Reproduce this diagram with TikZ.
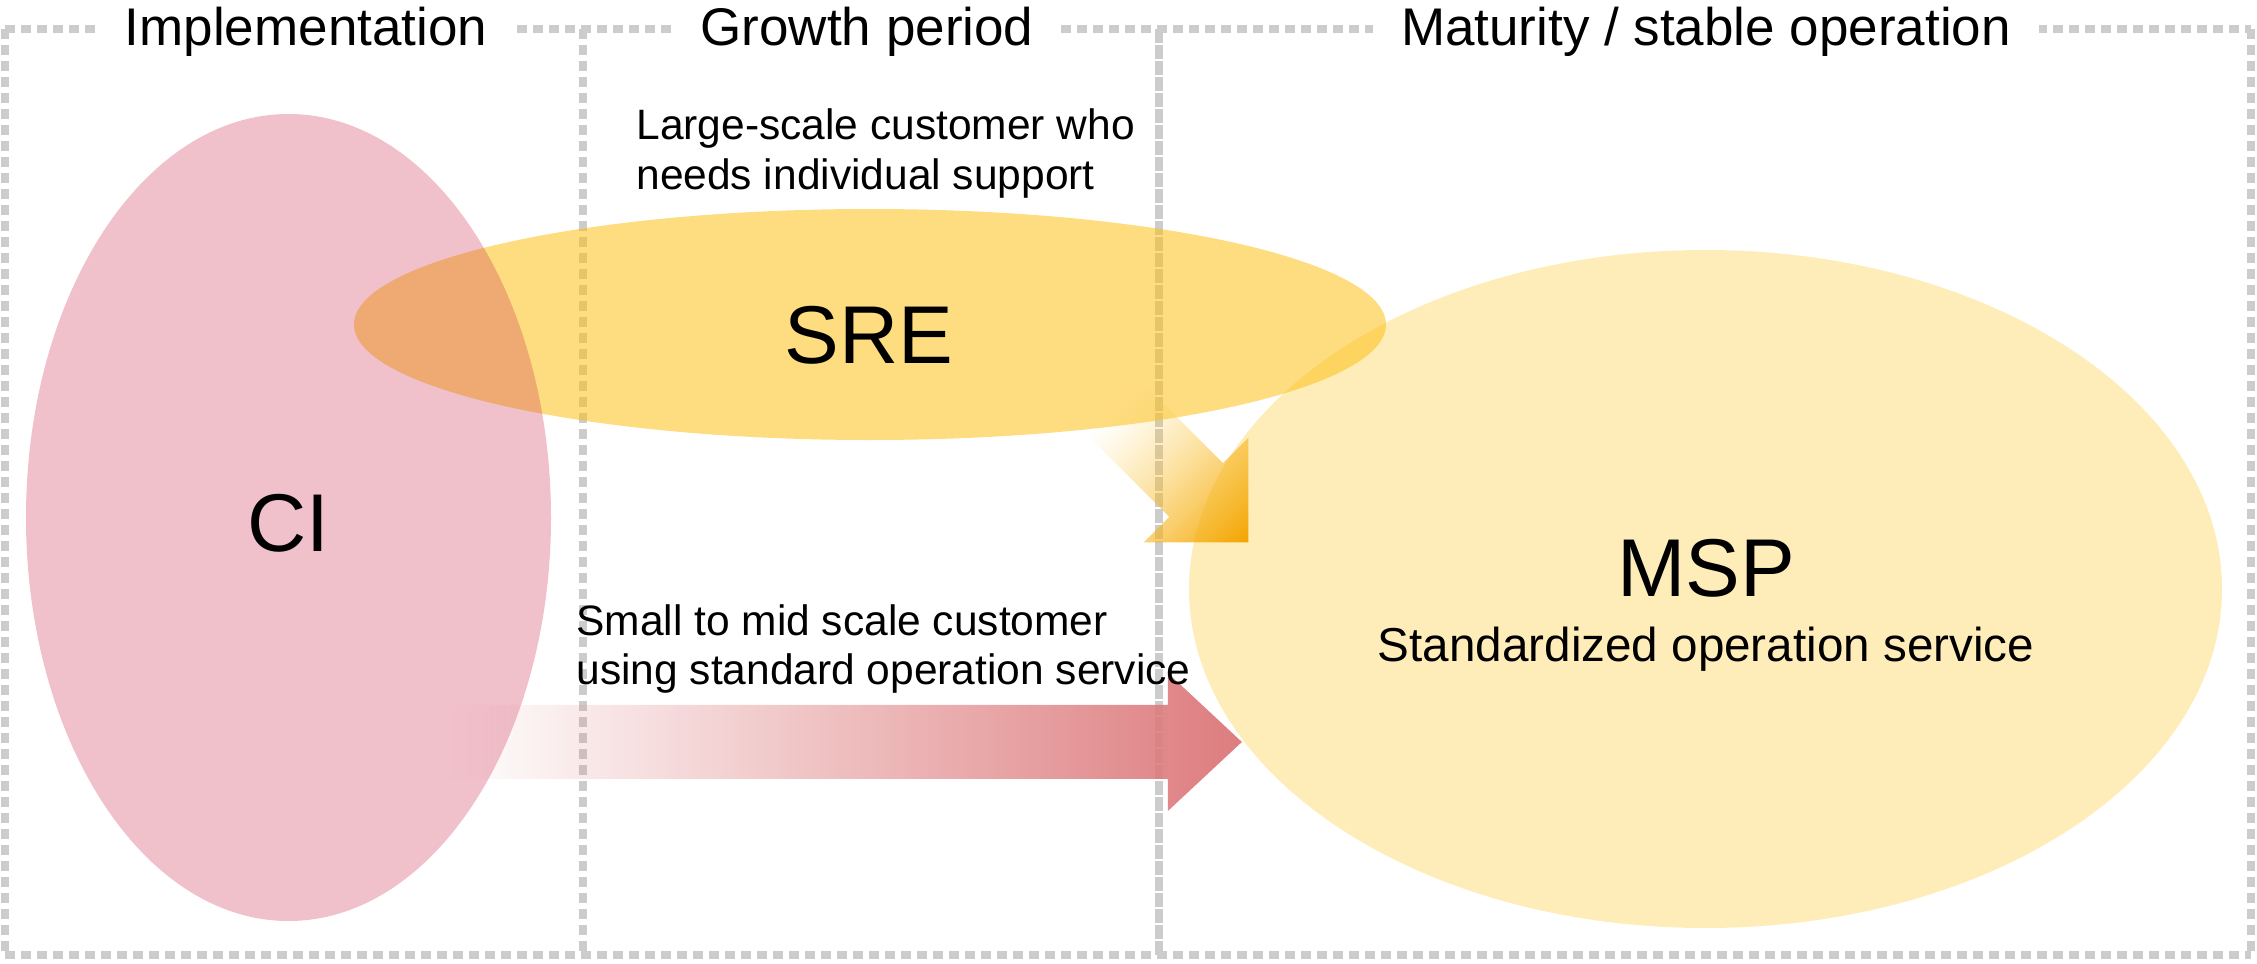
\documentclass[tikz,border=0pt]{standalone}
\usepackage{fontspec}
\setmainfont{Liberation Sans}
\usetikzlibrary{shapes.geometric,fadings}

\definecolor{gridgray}{RGB}{204,204,204}
\definecolor{gold}{RGB}{253,193,24}
\definecolor{crimson}{RGB}{205,48,82}
\definecolor{rosearrow}{RGB}{221,124,126}
\definecolor{ambertip}{RGB}{243,164,0}
\definecolor{amberlight}{RGB}{253,208,80}

% opacity ramp: transparent on the left, opaque on the right
\tikzfading[name=fadein, left color=transparent!100, right color=transparent!0]

\begin{document}
\begin{tikzpicture}[x=0.5pt,y=-0.5pt,
  frameline/.style={draw=gridgray, line width=4pt, dash pattern=on 5pt off 3pt},
  seamline/.style={draw=gridgray, line width=4pt, dash pattern=on 7pt off 1pt},
  blob/.style={ellipse, inner sep=0pt, draw=none},
  title/.style={anchor=base, fill=white, inner xsep=14pt, inner ysep=2pt,
    font=\fontsize{26.5}{30}\selectfont},
  biglabel/.style={anchor=base, font=\fontsize{41}{44}\selectfont},
  sublabel/.style={anchor=base, font=\fontsize{23.8}{28}\selectfont},
  note/.style={anchor=base west, inner sep=0pt, font=\fontsize{21.25}{24.5}\selectfont}]

\useasboundingbox (0,0) rectangle (2257,963);

% phase frames
\draw[frameline] (5,29) -- (2251,29);
\draw[frameline] (5,955) -- (2251,955);
\draw[frameline] (5,29) -- (5,955);
\draw[frameline] (583,29) -- (583,955);
\draw[frameline] (2251,29) -- (2251,955);
\draw[seamline] (1159,29) -- (1159,955);

% service areas
\node[blob, fill=gold, fill opacity=0.3, minimum width=516.5pt, minimum height=339pt]
  (msp) at (1705.5,589) {};
\node[blob, fill=gold, fill opacity=0.55, minimum width=516pt, minimum height=115.5pt]
  (sre) at (870,324.5) {};
\node[blob, fill=crimson, fill opacity=0.3, minimum width=262.5pt, minimum height=403.5pt]
  (ci) at (288.5,517.5) {};

% flow from SRE down into MSP
\begin{scope}[transform canvas={shift={(1196,490)}, rotate=-45}]
  \shade[left color=amberlight, right color=ambertip, path fading=fadein]
    (-115,-38) -- (0,-38) -- (0,-74) -- (74,0) -- (0,74) -- (0,38) -- (-115,38) -- cycle;
\end{scope}

% flow from CI straight into MSP
\fill[rosearrow, path fading=fadein]
  (450,705) -- (1168,705) -- (1168,673) -- (1242,742) -- (1168,811) -- (1168,779)
  -- (450,779) -- cycle;

% labels
\node[biglabel] (citext) at (288,551) {CI};
\node[biglabel] (sretext) at (869,363) {SRE};
\node[biglabel] (msptext) at (1706,596) {MSP};
\node[sublabel] (mspsub) at (1706,661) {Standardized operation service};

\node[note] (large1) at (636,140) {Large-scale customer who};
\node[note] (large2) at (636,189) {needs individual support};
\node[note] (small1) at (576,635) {Small to mid scale customer};
\node[note] (small2) at (576,684) {using standard operation service};

% phase titles
\node[title] (t1) at (306,46) {Implementation};
\node[title] (t2) at (867,46) {Growth period};
\node[title] (t3) at (1706,46) {Maturity / stable operation};

\end{tikzpicture}
\end{document}
